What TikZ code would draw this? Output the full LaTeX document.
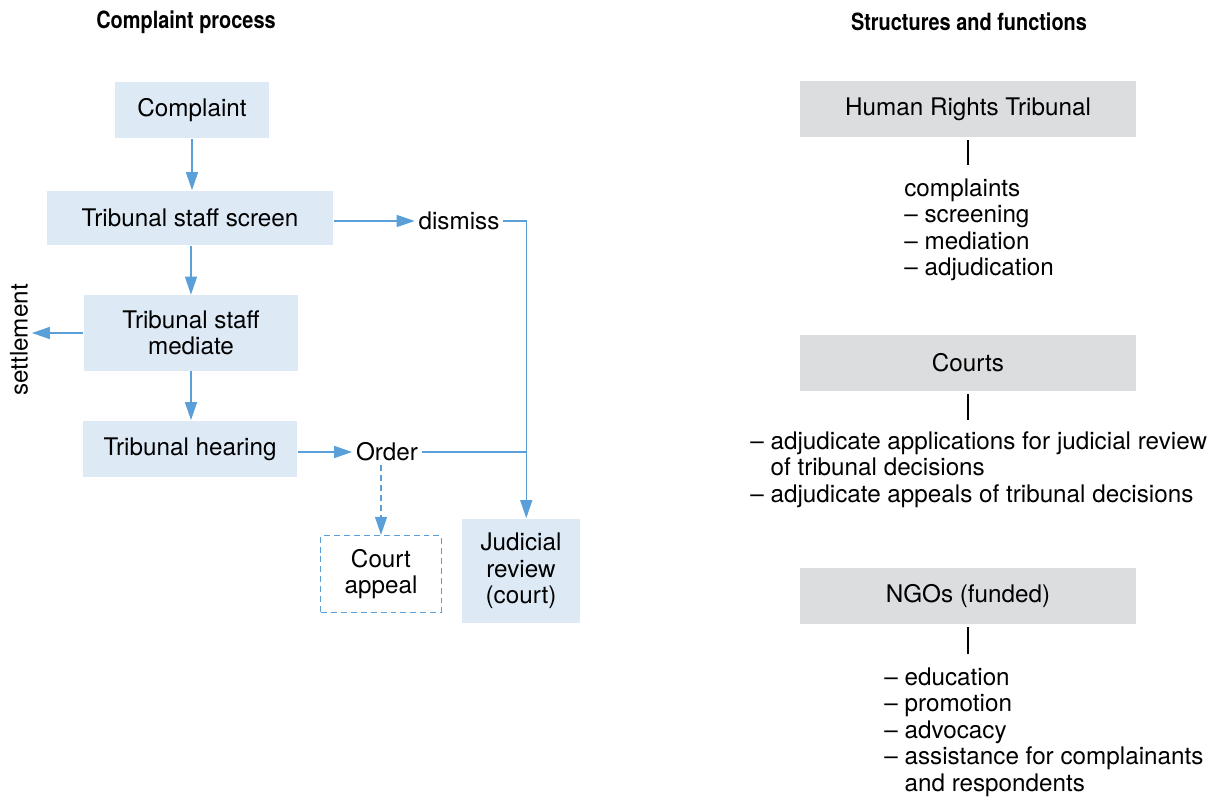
\documentclass[tikz,border=0pt]{standalone}
\usepackage{fontspec}
\setmainfont{TeX Gyre Heros}
\newfontfamily\ttlfont{TeX Gyre Heros}[FakeStretch=0.84]
\usetikzlibrary{arrows.meta}
\definecolor{boxblue}{HTML}{DDEAF6}
\definecolor{lineblue}{HTML}{5A9FD8}
\definecolor{boxgrey}{HTML}{DCDDDF}
\tikzset{
  flow/.style={fill=boxblue, inner sep=0pt, align=center},
  struct/.style={fill=boxgrey, inner sep=0pt, minimum width=6.74cm, minimum height=1.13cm},
  word/.style={inner sep=2pt},
  flowline/.style={draw=lineblue, line width=0.75pt},
  flowarrow/.style={flowline, -{Triangle[length=0.36cm, width=0.24cm]}},
  stem/.style={draw=black, line width=0.6pt},
  lst/.style={align=left, inner sep=0pt, anchor=north west},
  ttl/.style={font=\fontsize{13.5}{15.2}\selectfont\ttlfont\bfseries}
}
\begin{document}
\begin{tikzpicture}[x=0.02cm, y=-0.02cm, font=\fontsize{13.8}{15.1}\selectfont]
\useasboundingbox (0,0) rectangle (1214,797);
% titles
\node[ttl] (ttlleft) at (186,22) {Complaint process};
\node[ttl] (ttlright) at (969,22) {Structures and functions};
% complaint process
\node[flow, minimum width=3.08cm, minimum height=1.14cm] (complaint) at (192,110) {Complaint};
\node[flow, minimum width=5.74cm, minimum height=1.1cm] (screen) at (190,218) {Tribunal staff screen};
\node[flow, minimum width=4.3cm, minimum height=1.52cm] (mediate) at (191,333) {Tribunal staff\\mediate};
\node[flow, minimum width=4.3cm, minimum height=1.14cm] (hearing) at (190,449) {Tribunal hearing};
\node[word] (dismiss) at (459,221) {dismiss};
\node[word] (order) at (387,452) {Order};
\node[word, rotate=90] (settle) at (19,340) {settlement};
\node[flow, fill=none, draw=lineblue, dash pattern=on 0.12cm off 0.08cm, line width=0.75pt,
  minimum width=2.42cm, minimum height=1.54cm] (appeal) at (381,574) {Court\\appeal};
\node[flow, minimum width=2.38cm, minimum height=2.1cm] (judicial) at (521,571) {Judicial\\review\\(court)};
\coordinate (jn) at ([xshift=3pt]judicial.north |- order.east);
\draw[flowarrow] (complaint.south) -- (complaint.south |- screen.north);
\draw[flowarrow] (screen.south -| mediate.north) -- (mediate.north);
\draw[flowarrow] (mediate.south) -- (mediate.south |- hearing.north);
\draw[flowarrow] (mediate.west) -- (settle.south |- mediate.west);
\draw[flowarrow] (screen.east |- dismiss.west) -- (dismiss.west);
\draw[flowarrow] (hearing.east |- order.west) -- (order.west);
\draw[flowarrow] (dismiss.east) -| ([xshift=3pt]judicial.north);
\draw[flowline] (order.east) -- (jn);
\draw[flowarrow, dash pattern=on 0.12cm off 0.08cm] (order.south -| appeal.north) -- (appeal.north);
% structures and functions
\node[struct] (hrt) at (968,109) {Human Rights Tribunal};
\node[struct] (courts) at (968,363) {Courts};
\node[struct] (ngo) at (968,596) {NGOs (funded)};
\node[lst] (hrtlist) at (904,178) {complaints\\-- screening\\-- mediation\\-- adjudication};
\node[lst] (courtlist) at (750,431) {-- adjudicate applications for judicial review\\\phantom{-- }of tribunal decisions\\-- adjudicate appeals of tribunal decisions};
\node[lst] (ngolist) at (884,667) {-- education\\-- promotion\\-- advocacy\\-- assistance for complainants\\\phantom{-- }and respondents};
\draw[stem, shorten <=1.5pt] (hrt.south) -- (hrt.south |- 0,165);
\draw[stem, shorten <=1.5pt] (courts.south) -- (courts.south |- 0,420);
\draw[stem, shorten <=1.5pt] (ngo.south) -- (ngo.south |- 0,654);
\end{tikzpicture}
\end{document}
